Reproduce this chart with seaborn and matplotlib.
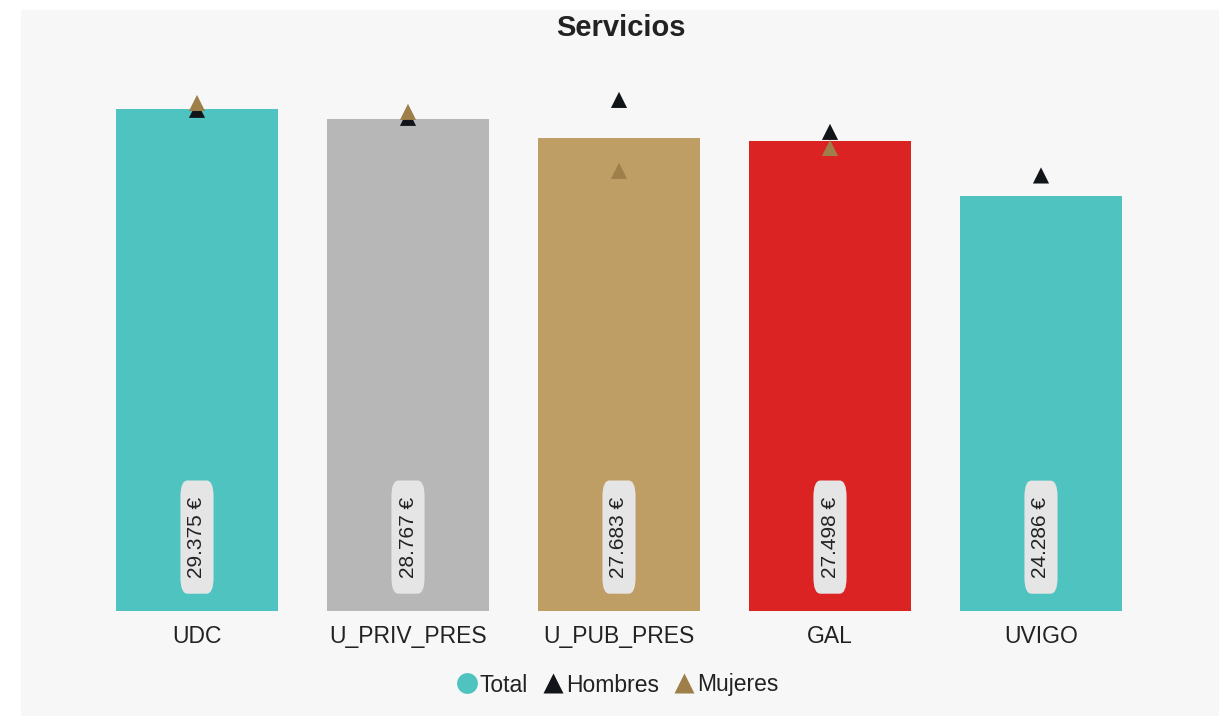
import matplotlib
matplotlib.use('Agg')
import matplotlib.pyplot as plt
from matplotlib.lines import Line2D
from matplotlib.patches import Rectangle
import seaborn as sns
import pandas as pd
import numpy as np

# Data
categories = ['UDC', 'U_PRIV_PRES', 'U_PUB_PRES', 'GAL', 'UVIGO']
total = [29375, 28767, 27683, 27498, 24286]
hombres = [29320, 28850, 29900, 28030, 25480]
mujeres = [29720, 29200, 25750, 27090, np.nan]
bar_colors = ['#4fc3bf', '#b7b7b7', '#bf9e66', '#dc2323', '#4fc3bf']

df = pd.DataFrame({'cat': categories, 'total': total,
                   'hombres': hombres, 'mujeres': mujeres})

sns.set_style('white')
plt.rcParams['font.family'] = ['Liberation Sans', 'DejaVu Sans']
plt.rcParams['text.color'] = '#222222'

fig = plt.figure(figsize=(12.19, 7.16), dpi=100)
fig.patches.append(Rectangle((21 / 1219, 0), 1 - 21 / 1219, 1 - 10 / 716,
                             transform=fig.transFigure, facecolor='#f7f7f7',
                             edgecolor='none', zorder=-10))
ax = fig.add_axes([91.5 / 1219, 105 / 716, 1055 / 1219, 547 / 716])
ax.set_facecolor('none')

sns.barplot(data=df, x='cat', y='total', hue='cat', palette=bar_colors,
            width=0.77, legend=False, ax=ax, saturation=1,
            linewidth=0, edgecolor='none')

sns.scatterplot(data=df, x='cat', y='hombres', marker='^', s=135,
                color='#111418', edgecolor='none', ax=ax, zorder=3)
sns.scatterplot(data=df, x='cat', y='mujeres', marker='^', s=135,
                color='#9e7f4a', edgecolor='none', ax=ax, zorder=4)

# value labels inside bars (box rotates with the text)
for i, v in enumerate(total):
    label = f'{v:,}'.replace(',', '.') + ' €'
    ax.annotate(label, xy=(i, 0), xytext=(0, 24), textcoords='offset points',
                rotation=90, ha='center', va='bottom', fontsize=15,
                color='#222222',
                bbox=dict(boxstyle='round,pad=0.77', fc='#e5e5e5', ec='none',
                          mutation_aspect=0.44))

ax.set_xlim(-0.5, 4.5)
ax.set_ylim(0, 32000)
ax.set_yticks([])
ax.set_xlabel('')
ax.set_ylabel('')
ax.tick_params(axis='x', length=0, labelsize=16.5, pad=10, labelcolor='#222222')
sns.despine(ax=ax, left=True, bottom=True)

fig.text(621 / 1219, 1 - 28 / 716, 'Servicios', ha='center', va='center',
         fontsize=21, fontweight='bold', color='#222222')

handles = [
    Line2D([], [], marker='o', linestyle='none', markersize=15,
           markerfacecolor='#4fc3bf', markeredgecolor='none', label='Total'),
    Line2D([], [], marker='^', linestyle='none', markersize=14,
           markerfacecolor='#111418', markeredgecolor='none', label='Hombres'),
    Line2D([], [], marker='^', linestyle='none', markersize=14,
           markerfacecolor='#9e7f4a', markeredgecolor='none', label='Mujeres'),
]
fig.legend(handles=handles, loc='center', bbox_to_anchor=(617 / 1219, 1 - 685 / 716),
           ncol=3, frameon=False, fontsize=16.5, handletextpad=0.05,
           columnspacing=0.6, handlelength=1.0)

plt.savefig('out.png', dpi=100)
plt.close()
